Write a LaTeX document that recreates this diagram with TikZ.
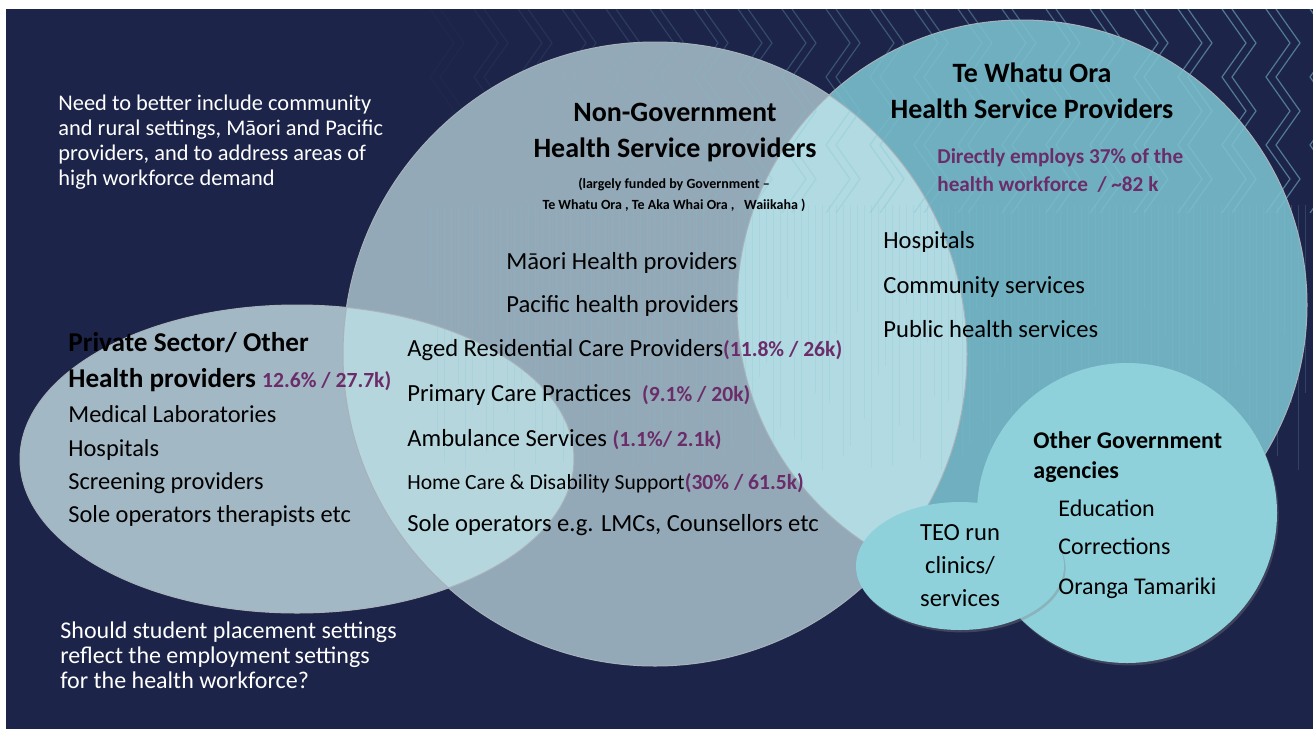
\documentclass[tikz,border=0pt]{standalone}
\usepackage{fontspec}
\setmainfont{Carlito}
\usetikzlibrary{shapes.geometric,shadows}
\definecolor{Navy}{HTML}{1D2449}
\definecolor{PrivFill}{HTML}{A3B8C5}
\definecolor{NgoFill}{HTML}{93A9B7}
\definecolor{TwoFill}{HTML}{70AFC0}
\definecolor{LapFill}{HTML}{B6D6DD}
\definecolor{LapTwo}{HTML}{B2DAE2}
\definecolor{GovFill}{HTML}{8ED1DB}
\definecolor{Share}{HTML}{6B2D6A}
\definecolor{Motif}{HTML}{7CC3D2}
\definecolor{Rim}{HTML}{A7B2BA}
% workforce share figures, set in purple
\newcommand\sharefig[1]{{\color{Share}\bfseries\fontsize{10.8}{13}\selectfont#1}}

\begin{document}
\begin{tikzpicture}[x=0.5pt,y=-0.5pt,
  note/.style={text=white,font=\fontsize{11.2}{12.5}\selectfont,align=left,anchor=north west,inner sep=0pt},
  head/.style={font=\bfseries\fontsize{14}{18}\selectfont,align=center,anchor=north,inner sep=0pt},
  item/.style={anchor=west,inner sep=0pt,text height=0.7em,text depth=0.24em,font=\fontsize{12.3}{14}\selectfont},
  rim/.style={draw=Rim,line width=0.5pt},
  motif/.style={draw=Motif,line width=0.6pt},
  fringe/.style={draw=Motif,line width=0.3pt,draw opacity=0.2},
  bubble/.style={fill=GovFill,drop shadow={shadow xshift=0.8pt,shadow yshift=-1.2pt,opacity=0.35}}]
\useasboundingbox (0,0) rectangle (1313,729);
\fill[white] (0,0) rectangle (1313,729);
\fill[Navy] (6,9) rectangle (1313,729);
% the three sectors
\fill[PrivFill] (297,459) ellipse (277 and 154);
\fill[NgoFill] (655,354) circle (312);
\fill[TwoFill] (1022,305) circle (285);
\begin{scope}
  \clip (297,459) ellipse (277 and 154);
  \fill[LapFill] (655,354) circle (312);
\end{scope}
\begin{scope}
  \clip (655,354) circle (312);
  \fill[LapTwo] (1022,305) circle (285);
\end{scope}
\draw[rim] (297,459) ellipse (277 and 154) (655,354) circle (312) (1022,305) circle (285);
% taniko band along the top
\begin{scope}
  \clip (6,9) rectangle (1313,212);
  \foreach \c in {0,...,20}{
    \pgfmathsetmacro\op{min(0.55,0.03+0.03*\c)}
    \foreach \s in {0,10}
      \draw[motif,draw opacity=\op] (430+44*\c+\s,9) -- ++(24,34) -- ++(-24,34) -- ++(24,34)
        -- ++(-24,34) -- ++(24,34) -- ++(-24,34);
  }
\end{scope}
\foreach \c in {0,...,125}{
  \pgfmathsetmacro\yy{290+180*abs(sin(\c*53))}
  \draw[fringe] (430+7*\c,205) -- (430+7*\c,\yy);
}
% government agencies and tertiary clinics
\node[circle,bubble,minimum size=150pt,inner sep=0pt] (gov) at (1127,513) {};
\node[ellipse,bubble,minimum width=104pt,minimum height=64pt,inner sep=0pt,align=center,
  font=\fontsize{12.3}{16.5}\selectfont] (teo) at (960,566) {TEO run\\clinics/\\services};

\node[note] (need) at (58,95) {Need to better include community\\and rural settings, Māori and Pacific\\providers, and to address areas of\\high workforce demand};
\node[note,font=\fontsize{12}{12.5}\selectfont] (placement) at (60,621) {Should student placement settings\\reflect the employment\,settings\\for the health workforce?};

\node[head] (ngohead) at (675,103) {Non-Government\\Health Service providers};
\node[head,font=\bfseries\fontsize{7}{10.5}\selectfont] (funded) at (674,178)
  {(largely funded by Government –\\Te Whatu Ora , Te Aka Whai Ora ,\ \ \ Waiikaha )};
\node[item] (maori) at (506,265) {Māori Health providers};
\node[item] (pacific) at (506,308) {Pacific health providers};
\node[item] (aged) at (407,352) {Aged Residential Care Providers\sharefig{(11.8\% / 26k)}};
\node[item] (primary) at (407,397) {Primary Care Practices\ \ \sharefig{(9.1\% / 20k)}};
\node[item] (amb) at (407,442) {Ambulance Services\ \sharefig{(1.1\%/ 2.1k)}};
\node[item,font=\fontsize{10.8}{13}\selectfont] (home) at (407,485) {Home Care \& Disability Support\sharefig{(30\% / 61.5k)}};
\node[item] (sole) at (407,527) {Sole operators e.g. LMCs, Counsellors etc};

\node[head] (twhead) at (1032,62) {Te Whatu Ora\\Health Service Providers};
\node[note,text=Share,font=\bfseries\fontsize{10.6}{14}\selectfont] (employs) at (937,148)
  {Directly employs 37\% of the\\health workforce\ \ / \textasciitilde82 k};
\node[item] (twhosp) at (883,244) {Hospitals};
\node[item] (twcomm) at (883,289) {Community services};
\node[item] (twpub) at (883,333) {Public health services};

\node[item,font=\bfseries\fontsize{13.6}{16}\selectfont] (privhead) at (68,347) {Private Sector/ Other};
\node[item,font=\bfseries\fontsize{13.6}{16}\selectfont] (privhead2) at (68,383) {Health providers \sharefig{12.6\% / 27.7k)}};
\node[item,font=\fontsize{12.2}{14}\selectfont] (labs) at (68,418) {Medical Laboratories};
\node[item,font=\fontsize{12.2}{14}\selectfont] (privhosp) at (68,452) {Hospitals};
\node[item,font=\fontsize{12.2}{14}\selectfont] (screen) at (68,485) {Screening providers};
\node[item,font=\fontsize{12.2}{14}\selectfont] (therap) at (68,518) {Sole operators therapists etc};

\node[note,text=black,font=\bfseries\fontsize{12}{15}\selectfont] (govhead) at (1033,431) {Other Government\\agencies};
\node[item,font=\fontsize{12}{14}\selectfont] (edu) at (1058,512) {Education};
\node[item,font=\fontsize{12}{14}\selectfont] (corr) at (1058,550) {Corrections};
\node[item,font=\fontsize{12}{14}\selectfont] (oranga) at (1058,590) {Oranga Tamariki};
\end{tikzpicture}
\end{document}
